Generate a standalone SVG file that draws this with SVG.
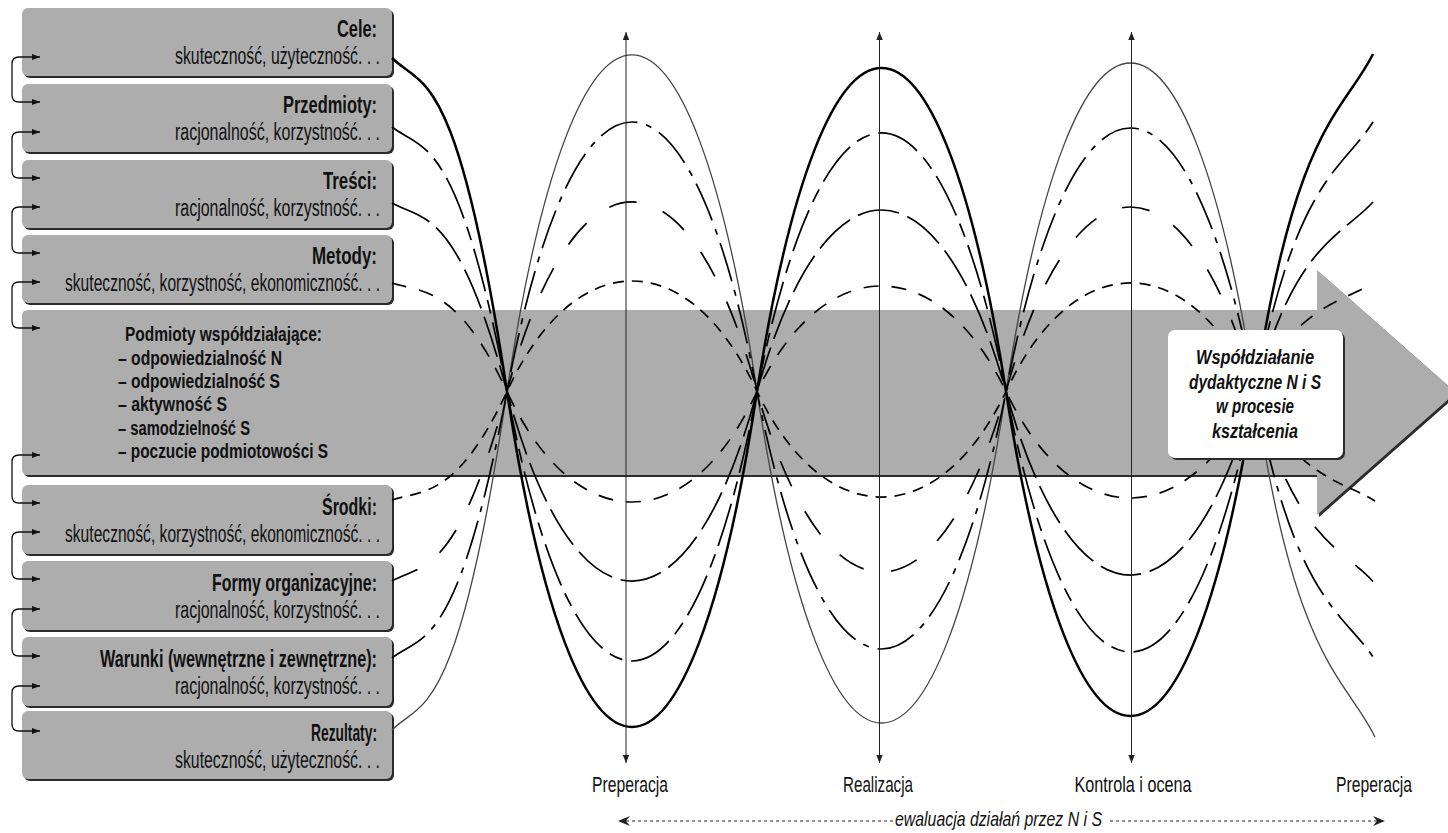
<svg xmlns="http://www.w3.org/2000/svg" width="1448" height="833" viewBox="0 0 1448 833">
<defs>
<style>
.box{fill:#adadad}
.sh{fill:#2b2b2b}
.t{font-family:"Liberation Sans",Arial,sans-serif;font-size:23px;fill:#111}
.p{font-family:"Liberation Sans",Arial,sans-serif;font-size:20px;font-weight:bold;fill:#111}
.b{font-weight:bold}
.lbl{font-family:"Liberation Sans",Arial,sans-serif;font-size:22px;fill:#111;text-anchor:middle}
.ti{font-family:"Liberation Sans",Arial,sans-serif;font-size:21px;font-weight:bold;font-style:italic;fill:#111;text-anchor:middle}
.ev{font-family:"Liberation Sans",Arial,sans-serif;font-size:21px;font-style:italic;fill:#111}
.cv{fill:none;stroke:#000;stroke-width:1.7}
.ax{stroke:#222;stroke-width:1;fill:none}
.cn{fill:none;stroke:#111;stroke-width:1.3}
.dt{fill:none;stroke:#222;stroke-width:1;stroke-dasharray:3 3}
</style>
<marker id="ah" viewBox="0 0 8 8" refX="8" refY="4" markerWidth="8" markerHeight="8" orient="auto-start-reverse" markerUnits="userSpaceOnUse"><path d="M0,0.8 L8,4 L0,7.2 Z" fill="#222"/></marker>
<marker id="ca" viewBox="0 0 8 6" refX="8" refY="3" markerWidth="8" markerHeight="6" orient="auto-start-reverse" markerUnits="userSpaceOnUse"><path d="M0,0 L8,3 L0,6 Z" fill="#111"/></marker>
<marker id="fa" viewBox="0 0 12 10" refX="12" refY="5" markerWidth="12" markerHeight="10" orient="auto-start-reverse" markerUnits="userSpaceOnUse"><path d="M0,0 L12,5 L0,10 L4,5 Z" fill="#222"/></marker>
</defs>
<rect width="1448" height="833" fill="#fff"/>

<g id="podmioty">
<path class="sh" transform="translate(2,2)" d="M28,310 H1317 V270 L1456,392.5 L1317,515 V475 H28 Q22,475 22,469 V316 Q22,310 28,310 Z"/>
<path class="box" d="M28,310 H1317 V270 L1456,392.5 L1317,515 V475 H28 Q22,475 22,469 V316 Q22,310 28,310 Z"/>
<text class="p" x="125" y="341" textLength="197" lengthAdjust="spacingAndGlyphs">Podmioty współdziałające:</text>
<text class="p" x="118" y="365" textLength="164" lengthAdjust="spacingAndGlyphs">– odpowiedzialność N</text>
<text class="p" x="118" y="388" textLength="162" lengthAdjust="spacingAndGlyphs">– odpowiedzialność S</text>
<text class="p" x="118" y="411" textLength="109" lengthAdjust="spacingAndGlyphs">– aktywność S</text>
<text class="p" x="118" y="435" textLength="132" lengthAdjust="spacingAndGlyphs">– samodzielność S</text>
<text class="p" x="118" y="458" textLength="210" lengthAdjust="spacingAndGlyphs">– poczucie podmiotowości S</text>
</g>

<g id="cele">
<rect class="sh" x="24" y="10" width="370" height="68" rx="6"/><rect class="box" x="22" y="8" width="370" height="68" rx="6"/>
<text class="t b" x="377" y="37" text-anchor="end" textLength="40" lengthAdjust="spacingAndGlyphs">Cele:</text>
<text class="t" x="380" y="64" text-anchor="end" textLength="205" lengthAdjust="spacingAndGlyphs">skuteczność, użyteczność. . .</text>
</g>
<g id="przedmioty">
<rect class="sh" x="24" y="86" width="370" height="68" rx="6"/><rect class="box" x="22" y="84" width="370" height="68" rx="6"/>
<text class="t b" x="377" y="113" text-anchor="end" textLength="94" lengthAdjust="spacingAndGlyphs">Przedmioty:</text>
<text class="t" x="380" y="140" text-anchor="end" textLength="205" lengthAdjust="spacingAndGlyphs">racjonalność, korzystność. . .</text>
</g>
<g id="tresci">
<rect class="sh" x="24" y="162" width="370" height="68" rx="6"/><rect class="box" x="22" y="160" width="370" height="68" rx="6"/>
<text class="t b" x="377" y="189" text-anchor="end" textLength="54" lengthAdjust="spacingAndGlyphs">Treści:</text>
<text class="t" x="380" y="216" text-anchor="end" textLength="205" lengthAdjust="spacingAndGlyphs">racjonalność, korzystność. . .</text>
</g>
<g id="metody">
<rect class="sh" x="24" y="237" width="370" height="68" rx="6"/><rect class="box" x="22" y="235" width="370" height="68" rx="6"/>
<text class="t b" x="377" y="264" text-anchor="end" textLength="65" lengthAdjust="spacingAndGlyphs">Metody:</text>
<text class="t" x="380" y="291" text-anchor="end" textLength="315" lengthAdjust="spacingAndGlyphs">skuteczność, korzystność, ekonomiczność. . .</text>
</g>
<g id="srodki">
<rect class="sh" x="24" y="487" width="370" height="69" rx="6"/><rect class="box" x="22" y="485" width="370" height="69" rx="6"/>
<text class="t b" x="377" y="515" text-anchor="end" textLength="55" lengthAdjust="spacingAndGlyphs">Środki:</text>
<text class="t" x="380" y="542" text-anchor="end" textLength="315" lengthAdjust="spacingAndGlyphs">skuteczność, korzystność, ekonomiczność. . .</text>
</g>
<g id="formy">
<rect class="sh" x="24" y="563" width="370" height="69" rx="6"/><rect class="box" x="22" y="561" width="370" height="69" rx="6"/>
<text class="t b" x="377" y="591" text-anchor="end" textLength="165" lengthAdjust="spacingAndGlyphs">Formy organizacyjne:</text>
<text class="t" x="380" y="618" text-anchor="end" textLength="205" lengthAdjust="spacingAndGlyphs">racjonalność, korzystność. . .</text>
</g>
<g id="warunki">
<rect class="sh" x="24" y="639" width="370" height="69" rx="6"/><rect class="box" x="22" y="637" width="370" height="69" rx="6"/>
<text class="t b" x="377" y="667" text-anchor="end" textLength="277" lengthAdjust="spacingAndGlyphs">Warunki (wewnętrzne i zewnętrzne):</text>
<text class="t" x="380" y="694" text-anchor="end" textLength="205" lengthAdjust="spacingAndGlyphs">racjonalność, korzystność. . .</text>
</g>
<g id="rezultaty">
<rect class="sh" x="24" y="713" width="370" height="68" rx="6"/><rect class="box" x="22" y="711" width="370" height="68" rx="6"/>
<text class="t b" x="377" y="741" text-anchor="end" textLength="66" lengthAdjust="spacingAndGlyphs">Rezultaty:</text>
<text class="t" x="380" y="768" text-anchor="end" textLength="205" lengthAdjust="spacingAndGlyphs">skuteczność, użyteczność. . .</text>
</g>

<g id="connectors">
<path class="cn" marker-start="url(#ca)" marker-end="url(#ca)" d="M40,57 H19 Q12,57 12,64 V95 Q12,102 19,102 H40"/>
<path class="cn" marker-start="url(#ca)" marker-end="url(#ca)" d="M40,132 H19 Q12,132 12,139 V171 Q12,178 19,178 H40"/>
<path class="cn" marker-start="url(#ca)" marker-end="url(#ca)" d="M40,207 H19 Q12,207 12,214 V246 Q12,253 19,253 H40"/>
<path class="cn" marker-start="url(#ca)" marker-end="url(#ca)" d="M40,282 H19 Q12,282 12,289 V321 Q12,328 19,328 H40"/>
<path class="cn" marker-start="url(#ca)" marker-end="url(#ca)" d="M40,455 H19 Q12,455 12,462 V496 Q12,503 19,503 H40"/>
<path class="cn" marker-start="url(#ca)" marker-end="url(#ca)" d="M40,532 H19 Q12,532 12,539 V572 Q12,579 19,579 H40"/>
<path class="cn" marker-start="url(#ca)" marker-end="url(#ca)" d="M40,609 H19 Q12,609 12,616 V649 Q12,656 19,656 H40"/>
<path class="cn" marker-start="url(#ca)" marker-end="url(#ca)" d="M40,686 H19 Q12,686 12,693 V724 Q12,731 19,731 H40"/>

<g id="curves">
<path id="c-cele" class="cv" style="stroke-width:2.5" d="M392,58 C422,88 457,62.2 507,391.5 C574.5,838.8 689.5,838.8 757,391.5 C824.5,-39.8 938.5,-39.8 1006,391.5 C1073.5,824.2 1187.5,824.2 1255,391.5 C1295,124.9 1343,113.7 1373,54"/>
<path id="c-rezultaty" class="cv" style="stroke:#444;stroke-width:1.3" d="M392,730 C422,699.5 457,725.8 507,391.5 C574.5,-57.2 689.5,-57.2 757,391.5 C824.5,833.5 938.5,833.5 1006,391.5 C1073.5,-46.5 1187.5,-46.5 1255,391.5 C1295,664.5 1345,675.8 1375,737"/>
<path id="c-przedmioty" class="cv" stroke-dasharray="44 9 14 9" d="M392,127 C422,150.8 457,130.3 507,391.5 C574.5,750.8 689.5,750.8 757,391.5 C824.5,46.8 938.5,46.8 1006,391.5 C1073.5,738.8 1187.5,738.8 1255,391.5 C1295,178.6 1343,169.7 1373,122"/>
<path id="c-warunki" class="cv" stroke-dasharray="40 9 6 9" d="M392,658 C422,634 457,654.7 507,391.5 C574.5,32.2 689.5,32.2 757,391.5 C824.5,734.8 938.5,734.8 1006,391.5 C1073.5,40.2 1187.5,40.2 1255,391.5 C1295,603.6 1345,612.5 1375,660"/>
<path id="c-tresci" class="cv" stroke-dasharray="42 9" d="M392,203 C422,220 457,205.4 507,391.5 C574.5,644.2 689.5,644.2 757,391.5 C824.5,149.5 938.5,149.5 1006,391.5 C1073.5,636.2 1187.5,636.2 1255,391.5 C1295,241.8 1343,235.5 1373,202"/>
<path id="c-formy" class="cv" stroke-dasharray="28 28" d="M392,581 C422,563.9 457,578.6 507,391.5 C574.5,138.8 689.5,138.8 757,391.5 C824.5,632.2 938.5,632.2 1006,391.5 C1073.5,145.5 1187.5,145.5 1255,391.5 C1295,541.6 1343,547.9 1373,581.5"/>
<path id="c-metody" class="cv" stroke-dasharray="15 13" d="M392,283 C422,292.8 457,284.4 507,391.5 C574.5,538.8 689.5,538.8 757,391.5 C824.5,250.8 938.5,250.8 1006,391.5 C1073.5,533.5 1187.5,533.5 1255,391.5 C1295,305.8 1343,302.2 1373,283"/>
<path id="c-srodki" class="cv" stroke-dasharray="11 8" d="M392,500 C422,490.2 457,498.6 507,391.5 C574.5,244.2 689.5,244.2 757,391.5 C824.5,532.2 938.5,532.2 1006,391.5 C1073.5,246.8 1187.5,246.8 1255,391.5 C1295,478 1345,481.6 1375,501"/>
</g>

<g id="axes">
<path class="ax" marker-start="url(#ah)" marker-end="url(#ah)" d="M626,32 V763"/>
<path class="ax" marker-start="url(#ah)" marker-end="url(#ah)" d="M879.5,32 V763"/>
<path class="ax" marker-start="url(#ah)" marker-end="url(#ah)" d="M1131.5,32 V763"/>
</g>
<path class="dt" marker-end="url(#fa)" d="M893,821 H618"/>
<path class="dt" marker-end="url(#fa)" d="M1110,821 H1385"/>
</g>

<g id="wspoldzialanie">
<rect class="sh" x="1170" y="332" width="175" height="128" rx="7"/>
<rect x="1168" y="330" width="175" height="128" rx="7" fill="#fff"/>
<text class="ti" x="1255" y="364" textLength="118" lengthAdjust="spacingAndGlyphs">Współdziałanie</text>
<text class="ti" x="1255" y="389" textLength="132" lengthAdjust="spacingAndGlyphs">dydaktyczne N i S</text>
<text class="ti" x="1255" y="413" textLength="78" lengthAdjust="spacingAndGlyphs">w procesie</text>
<text class="ti" x="1255" y="438" textLength="86" lengthAdjust="spacingAndGlyphs">kształcenia</text>
</g>

<g id="labels">
<text class="lbl" x="630" y="792" textLength="76" lengthAdjust="spacingAndGlyphs">Preperacja</text>
<text class="lbl" x="878" y="792" textLength="70" lengthAdjust="spacingAndGlyphs">Realizacja</text>
<text class="lbl" x="1133" y="792" textLength="117" lengthAdjust="spacingAndGlyphs">Kontrola i ocena</text>
<text class="lbl" x="1374" y="792" textLength="76" lengthAdjust="spacingAndGlyphs">Preperacja</text>
<text class="ev" x="895" y="826" textLength="207" lengthAdjust="spacingAndGlyphs">ewaluacja działań przez N i S</text>
</g>
</svg>
